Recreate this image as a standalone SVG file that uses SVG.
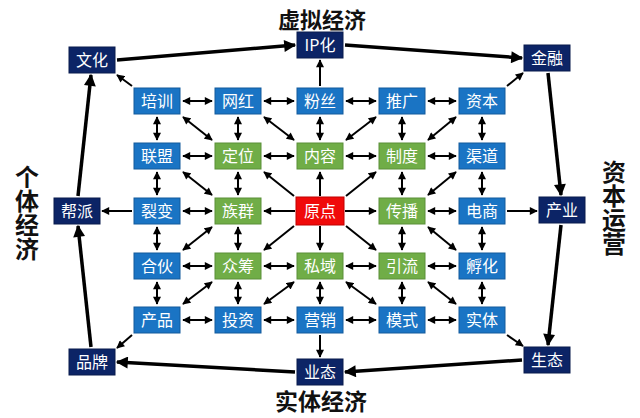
<svg xmlns="http://www.w3.org/2000/svg" width="640" height="418" viewBox="0 0 640 418">
<defs>
<style>
.b rect{fill:#1a74c4;stroke:#135a9c;stroke-width:1}
.g rect{fill:#70ad47;stroke:#5a8f38;stroke-width:1}
.r rect{fill:#f00a0a;stroke:#c00000;stroke-width:1}
.n rect{fill:#0c2466;stroke:#081a4c;stroke-width:1}
.node text{font-family:"Noto Sans CJK SC","Noto Sans",sans-serif;font-size:16px;fill:#ffffff;text-anchor:middle}
.title{font-family:"Noto Sans CJK SC","Noto Sans",sans-serif;font-size:23px;font-weight:bold;fill:#111;text-anchor:middle}
.vt{font-family:"Noto Sans CJK SC","Noto Sans",sans-serif;font-size:24px;font-weight:bold;fill:#111;writing-mode:vertical-rl;text-anchor:start}
.a{stroke:#000;stroke-width:2;fill:none;marker-end:url(#ah)}
.d{stroke:#000;stroke-width:2;fill:none;marker-end:url(#ah);marker-start:url(#ah)}
.t{stroke:#000;stroke-width:3.5;fill:none;marker-end:url(#ht)}
</style>
<marker id="ah" viewBox="0 0 10 10" refX="9" refY="5" markerWidth="9" markerHeight="8" markerUnits="userSpaceOnUse" orient="auto-start-reverse">
<path d="M0,0 L10,5 L0,10 z" fill="#000"/>
</marker>
<marker id="ht" viewBox="0 0 10 10" refX="9" refY="5" markerWidth="14" markerHeight="12" markerUnits="userSpaceOnUse" orient="auto">
<path d="M0,0 L10,5 L0,10 z" fill="#000"/>
</marker>
</defs>
<rect width="640" height="418" fill="#ffffff"/>
<g id="connectors">
<!-- outer thick ring -->
<line class="t" x1="117" y1="60" x2="295" y2="45"/>
<line class="t" x1="345" y1="45" x2="522" y2="58"/>
<line class="t" x1="548" y1="73" x2="561" y2="195"/>
<line class="t" x1="561" y1="225" x2="548" y2="345"/>
<line class="t" x1="522" y1="360" x2="345" y2="372"/>
<line class="t" x1="295" y1="372" x2="117" y2="362"/>
<line class="t" x1="91" y1="347" x2="78" y2="226"/>
<line class="t" x1="78" y1="196" x2="91" y2="75"/>
<!-- inner to outer -->
<line class="a" x1="132" y1="86" x2="117" y2="75"/>
<line class="a" x1="507" y1="86" x2="523" y2="73"/>
<line class="a" x1="132" y1="335" x2="117" y2="348"/>
<line class="a" x1="507" y1="335" x2="523" y2="346"/>
<line class="a" x1="132" y1="211" x2="102" y2="211"/>
<line class="a" x1="507" y1="211" x2="537" y2="211"/>
<line class="a" x1="320" y1="86" x2="320" y2="60"/>
<line class="a" x1="320" y1="335" x2="320" y2="357"/>
<!-- from center -->
<line class="a" x1="295" y1="211" x2="264" y2="211"/>
<line class="a" x1="345" y1="211" x2="376" y2="211"/>
<line class="a" x1="320" y1="196" x2="320" y2="172"/>
<line class="a" x1="320" y1="226" x2="320" y2="250"/>
<line class="a" x1="294" y1="196" x2="264" y2="172"/>
<line class="a" x1="346" y1="196" x2="376" y2="172"/>
<line class="a" x1="294" y1="226" x2="264" y2="250"/>
<line class="a" x1="346" y1="226" x2="376" y2="250"/>
<!-- horizontal rows -->
<line class="d" x1="183" y1="101" x2="212" y2="101"/>
<line class="d" x1="264" y1="101" x2="294" y2="101"/>
<line class="d" x1="346" y1="101" x2="376" y2="101"/>
<line class="d" x1="428" y1="101" x2="456" y2="101"/>
<line class="d" x1="183" y1="156" x2="212" y2="156"/>
<line class="d" x1="264" y1="156" x2="294" y2="156"/>
<line class="d" x1="346" y1="156" x2="376" y2="156"/>
<line class="d" x1="428" y1="156" x2="456" y2="156"/>
<line class="d" x1="183" y1="211" x2="212" y2="211"/>
<line class="d" x1="428" y1="211" x2="456" y2="211"/>
<line class="d" x1="183" y1="266" x2="212" y2="266"/>
<line class="d" x1="264" y1="266" x2="294" y2="266"/>
<line class="d" x1="346" y1="266" x2="376" y2="266"/>
<line class="d" x1="428" y1="266" x2="456" y2="266"/>
<line class="d" x1="183" y1="320" x2="212" y2="320"/>
<line class="d" x1="264" y1="320" x2="294" y2="320"/>
<line class="d" x1="346" y1="320" x2="376" y2="320"/>
<line class="d" x1="428" y1="320" x2="456" y2="320"/>
<!-- vertical columns -->
<line class="d" x1="157" y1="117" x2="157" y2="140"/>
<line class="d" x1="157" y1="172" x2="157" y2="195"/>
<line class="d" x1="157" y1="227" x2="157" y2="250"/>
<line class="d" x1="157" y1="282" x2="157" y2="304"/>
<line class="d" x1="238" y1="117" x2="238" y2="140"/>
<line class="d" x1="238" y1="172" x2="238" y2="195"/>
<line class="d" x1="238" y1="227" x2="238" y2="250"/>
<line class="d" x1="238" y1="282" x2="238" y2="304"/>
<line class="d" x1="320" y1="117" x2="320" y2="140"/>
<line class="d" x1="320" y1="282" x2="320" y2="304"/>
<line class="d" x1="402" y1="117" x2="402" y2="140"/>
<line class="d" x1="402" y1="172" x2="402" y2="195"/>
<line class="d" x1="402" y1="227" x2="402" y2="250"/>
<line class="d" x1="402" y1="282" x2="402" y2="304"/>
<line class="d" x1="482" y1="117" x2="482" y2="140"/>
<line class="d" x1="482" y1="172" x2="482" y2="195"/>
<line class="d" x1="482" y1="227" x2="482" y2="250"/>
<line class="d" x1="482" y1="282" x2="482" y2="304"/>
<!-- diagonals -->
<line class="d" x1="183" y1="117" x2="212" y2="140"/>
<line class="d" x1="264" y1="117" x2="294" y2="140"/>
<line class="d" x1="183" y1="172" x2="212" y2="195"/>
<line class="d" x1="376" y1="117" x2="346" y2="140"/>
<line class="d" x1="456" y1="117" x2="428" y2="140"/>
<line class="d" x1="456" y1="172" x2="428" y2="195"/>
<line class="d" x1="212" y1="227" x2="183" y2="250"/>
<line class="d" x1="212" y1="282" x2="183" y2="304"/>
<line class="d" x1="294" y1="282" x2="264" y2="304"/>
<line class="d" x1="428" y1="227" x2="456" y2="250"/>
<line class="d" x1="346" y1="282" x2="376" y2="304"/>
<line class="d" x1="428" y1="282" x2="456" y2="304"/>
</g>
<!-- outer nodes -->
<g id="n-wenhua" class="node n"><rect x="69" y="47" width="46" height="26"/><text x="92" y="66">文化</text></g>
<g id="n-iphua" class="node n"><rect x="297" y="32" width="46" height="26"/><text x="320" y="51">IP化</text></g>
<g id="n-jinrong" class="node n"><rect x="524" y="45" width="46" height="26"/><text x="547" y="64">金融</text></g>
<g id="n-bangpai" class="node n"><rect x="54" y="198" width="46" height="26"/><text x="77" y="217">帮派</text></g>
<g id="n-chanye" class="node n"><rect x="539" y="197" width="46" height="26"/><text x="562" y="216">产业</text></g>
<g id="n-pinpai" class="node n"><rect x="69" y="349" width="46" height="26"/><text x="92" y="368">品牌</text></g>
<g id="n-yetai" class="node n"><rect x="297" y="359" width="46" height="26"/><text x="320" y="378">业态</text></g>
<g id="n-shengtai" class="node n"><rect x="524" y="347" width="46" height="26"/><text x="547" y="366">生态</text></g>
<!-- row 1 -->
<g id="n-peixun" class="node b"><rect x="134" y="88" width="46" height="26"/><text x="157" y="107">培训</text></g>
<g id="n-wanghong" class="node b"><rect x="215" y="88" width="46" height="26"/><text x="238" y="107">网红</text></g>
<g id="n-fensi" class="node b"><rect x="297" y="88" width="46" height="26"/><text x="320" y="107">粉丝</text></g>
<g id="n-tuiguang" class="node b"><rect x="379" y="88" width="46" height="26"/><text x="402" y="107">推广</text></g>
<g id="n-ziben" class="node b"><rect x="459" y="88" width="46" height="26"/><text x="482" y="107">资本</text></g>
<!-- row 2 -->
<g id="n-lianmeng" class="node b"><rect x="134" y="143" width="46" height="26"/><text x="157" y="162">联盟</text></g>
<g id="n-dingwei" class="node g"><rect x="215" y="143" width="46" height="26"/><text x="238" y="162">定位</text></g>
<g id="n-neirong" class="node g"><rect x="297" y="143" width="46" height="26"/><text x="320" y="162">内容</text></g>
<g id="n-zhidu" class="node g"><rect x="379" y="143" width="46" height="26"/><text x="402" y="162">制度</text></g>
<g id="n-qudao" class="node b"><rect x="459" y="143" width="46" height="26"/><text x="482" y="162">渠道</text></g>
<!-- row 3 -->
<g id="n-liebian" class="node b"><rect x="134" y="198" width="46" height="26"/><text x="157" y="217">裂变</text></g>
<g id="n-zuqun" class="node g"><rect x="215" y="198" width="46" height="26"/><text x="238" y="217">族群</text></g>
<g id="n-yuandian" class="node r"><rect x="296" y="197" width="48" height="28"/><text x="320" y="217">原点</text></g>
<g id="n-chuanbo" class="node g"><rect x="379" y="198" width="46" height="26"/><text x="402" y="217">传播</text></g>
<g id="n-dianshang" class="node b"><rect x="459" y="198" width="46" height="26"/><text x="482" y="217">电商</text></g>
<!-- row 4 -->
<g id="n-hehuo" class="node b"><rect x="134" y="253" width="46" height="26"/><text x="157" y="272">合伙</text></g>
<g id="n-zhongchou" class="node g"><rect x="215" y="253" width="46" height="26"/><text x="238" y="272">众筹</text></g>
<g id="n-siyu" class="node g"><rect x="297" y="253" width="46" height="26"/><text x="320" y="272">私域</text></g>
<g id="n-yinliu" class="node g"><rect x="379" y="253" width="46" height="26"/><text x="402" y="272">引流</text></g>
<g id="n-fuhua" class="node b"><rect x="459" y="253" width="46" height="26"/><text x="482" y="272">孵化</text></g>
<!-- row 5 -->
<g id="n-chanpin" class="node b"><rect x="134" y="307" width="46" height="26"/><text x="157" y="326">产品</text></g>
<g id="n-touzi" class="node b"><rect x="215" y="307" width="46" height="26"/><text x="238" y="326">投资</text></g>
<g id="n-yingxiao" class="node b"><rect x="297" y="307" width="46" height="26"/><text x="320" y="326">营销</text></g>
<g id="n-moshi" class="node b"><rect x="379" y="307" width="46" height="26"/><text x="402" y="326">模式</text></g>
<g id="n-shiti" class="node b"><rect x="459" y="307" width="46" height="26"/><text x="482" y="326">实体</text></g>
<!-- titles -->
<text class="title" x="322" y="28" style="font-size:22px">虚拟经济</text>
<text class="title" x="321" y="410">实体经济</text>
<text class="vt" x="27" y="165">个体经济</text>
<text class="vt" x="614" y="160">资本运营</text>
</svg>
